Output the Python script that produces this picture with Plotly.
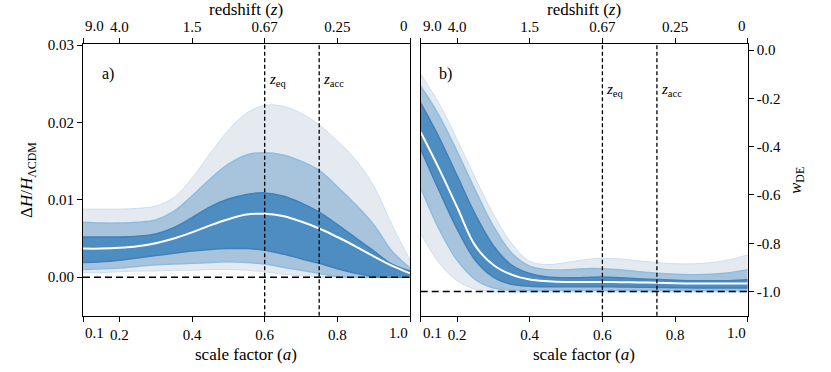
"""
Fan chart of the reconstructed expansion history.
Panel a: fractional deviation of H from LCDM, panel b: dark energy equation of state.
Quantile curves are read off the figure, outer -> inner, then the median.
"""
import plotly.graph_objects as go

SCALE_FACTOR = [0.1, 0.15, 0.2, 0.25, 0.3, 0.35, 0.4, 0.45, 0.5, 0.55,
                0.6, 0.65, 0.7, 0.75, 0.8, 0.85, 0.9, 0.95, 1.0]

# panel a) dH / H_LCDM
DH_U3 = [0.0088, 0.0088, 0.0088, 0.0089, 0.0092, 0.0103, 0.0128, 0.0160, 0.0190, 0.0212,
         0.0222, 0.0221, 0.0212, 0.0197, 0.0176, 0.0152, 0.0118, 0.0068, 0.0022]
DH_U2 = [0.0071, 0.0070, 0.0070, 0.0071, 0.0074, 0.0085, 0.0105, 0.0127, 0.0146, 0.0158,
         0.0161, 0.0158, 0.0150, 0.0138, 0.0117, 0.0094, 0.0068, 0.0034, 0.0012]
DH_U1 = [0.0052, 0.0052, 0.0052, 0.0053, 0.0056, 0.0064, 0.0077, 0.0091, 0.0101, 0.0107,
         0.0109, 0.0105, 0.0096, 0.0084, 0.0068, 0.0051, 0.0034, 0.0017, 0.0008]
DH_MED = [0.0037, 0.0037, 0.0038, 0.0040, 0.0044, 0.0050, 0.0058, 0.0067, 0.0075, 0.0081,
          0.0082, 0.0079, 0.0072, 0.0063, 0.0052, 0.0040, 0.0027, 0.0015, 0.0005]
DH_L1 = [0.0019, 0.0020, 0.0022, 0.0025, 0.0028, 0.0031, 0.0034, 0.0036, 0.0037, 0.0037,
         0.0035, 0.0030, 0.0024, 0.0018, 0.0011, 0.0005, 0.0001, 0.0, 0.0]
DH_L2 = [0.0010, 0.0011, 0.0012, 0.0014, 0.0016, 0.0017, 0.0018, 0.0019, 0.0020, 0.0019,
         0.0017, 0.0013, 0.0009, 0.0005, 0.0001, 0.0, 0.0, 0.0, 0.0]
DH_L3 = [0.0006, 0.0006, 0.0007, 0.0008, 0.0008, 0.0009, 0.0009, 0.0010, 0.0010, 0.0009,
         0.0007, 0.0004, 0.0002, 0.0, 0.0, 0.0, 0.0, 0.0, 0.0]

# panel b) w_DE
W_U3 = [-0.10, -0.22, -0.37, -0.53, -0.68, -0.80, -0.875, -0.888, -0.88, -0.868,
        -0.862, -0.865, -0.873, -0.88, -0.885, -0.885, -0.88, -0.868, -0.848]
W_U2 = [-0.15, -0.27, -0.42, -0.58, -0.73, -0.84, -0.895, -0.91, -0.91, -0.905,
        -0.905, -0.91, -0.918, -0.924, -0.928, -0.93, -0.928, -0.922, -0.91]
W_U1 = [-0.22, -0.36, -0.52, -0.68, -0.81, -0.89, -0.925, -0.94, -0.943, -0.942,
        -0.94, -0.943, -0.947, -0.95, -0.953, -0.955, -0.955, -0.955, -0.95]
W_MED = [-0.34, -0.49, -0.65, -0.81, -0.89, -0.93, -0.95, -0.957, -0.96, -0.96,
         -0.96, -0.961, -0.962, -0.964, -0.966, -0.967, -0.967, -0.967, -0.967]
W_L1 = [-0.41, -0.58, -0.74, -0.87, -0.94, -0.97, -0.978, -0.98, -0.98, -0.98,
        -0.98, -0.981, -0.982, -0.983, -0.984, -0.985, -0.985, -0.985, -0.985]
W_L2 = [-0.57, -0.74, -0.87, -0.95, -0.985, -0.993, -0.995, -0.995, -0.995, -0.995,
        -0.995, -0.995, -0.995, -0.996, -0.996, -0.996, -0.996, -0.996, -0.996]
W_L3 = [-0.76, -0.88, -0.955, -0.99, -1.0, -1.002, -1.002, -1.002, -1.002, -1.002,
        -1.002, -1.002, -1.002, -1.002, -1.002, -1.002, -1.002, -1.002, -1.002]

A_EQ = 0.6
A_ACC = 0.75
DH_REF = 0.0
W_REF = -1.0

X_TICKS = [0.1, 0.2, 0.4, 0.6, 0.8, 1.0]
X_TICK_LABELS = ["0.1", "0.2", "0.4", "0.6", "0.8", "1.0"]
Z_TICK_LABELS = ["9.0", "4.0", "1.5", "0.67", "0.25", "0"]
DH_TICKS = [0.0, 0.01, 0.02, 0.03]
DH_TICK_LABELS = ["0.00", "0.01", "0.02", "0.03"]
W_TICKS = [0.0, -0.2, -0.4, -0.6, -0.8, -1.0]
W_TICK_LABELS = ["0.0", "-0.2", "-0.4", "-0.6", "-0.8", "-1.0"]

FONT = "Liberation Serif"
TICK_SIZE = 15
TITLE_SIZE = 17
FILL_COLORS = ["rgb(228,234,240)", "rgb(168,196,221)", "rgb(78,141,193)"]
LINE_COLORS = ["rgb(202,223,241)", "rgb(140,189,226)", "rgb(66,128,184)"]
LINE_WIDTHS = [1.0, 1.5, 1.5]


def add_fan(fig, xa, ya, bands, median):
    # filled bands, widest first so the narrower ones sit on top
    for (upper, lower), fill in zip(bands, FILL_COLORS):
        fig.add_trace(go.Scatter(x=SCALE_FACTOR, y=upper, mode="lines",
                                 line=dict(width=0, shape="spline"),
                                 xaxis=xa, yaxis=ya, hoverinfo="skip"))
        fig.add_trace(go.Scatter(x=SCALE_FACTOR, y=lower, mode="lines",
                                 line=dict(width=0, shape="spline"),
                                 fill="tonexty", fillcolor=fill,
                                 xaxis=xa, yaxis=ya, hoverinfo="skip"))
    for (upper, lower), col, w in zip(bands, LINE_COLORS, LINE_WIDTHS):
        for curve in (upper, lower):
            fig.add_trace(go.Scatter(x=SCALE_FACTOR, y=curve, mode="lines",
                                     line=dict(color=col, width=w, shape="spline"),
                                     xaxis=xa, yaxis=ya, hoverinfo="skip"))
    fig.add_trace(go.Scatter(x=SCALE_FACTOR, y=median, mode="lines",
                             line=dict(color="white", width=2, shape="spline"),
                             xaxis=xa, yaxis=ya, hoverinfo="skip"))


fig = go.Figure()
add_fan(fig, "x", "y", [(DH_U3, DH_L3), (DH_U2, DH_L2), (DH_U1, DH_L1)], DH_MED)
add_fan(fig, "x2", "y2", [(W_U3, W_L3), (W_U2, W_L2), (W_U1, W_L1)], W_MED)
# invisible copies so the redshift axes on top get drawn
fig.add_trace(go.Scatter(x=SCALE_FACTOR, y=DH_MED, mode="lines", line=dict(width=0),
                         xaxis="x3", yaxis="y", hoverinfo="skip"))
fig.add_trace(go.Scatter(x=SCALE_FACTOR, y=W_MED, mode="lines", line=dict(width=0),
                         xaxis="x4", yaxis="y2", hoverinfo="skip"))

DOM_A = [0.0999, 0.4934]
DOM_B = [0.5063, 0.8998]
DOM_Y = [0.1513, 0.881]

# end labels are pushed inwards (drawn separately below), so blank them on the axis
inner_x = [""] + X_TICK_LABELS[1:-1] + [""]
inner_z = [""] + Z_TICK_LABELS[1:-1] + [""]

common = dict(showgrid=False, zeroline=False, showline=True, linecolor="black",
              linewidth=1, ticks="outside", ticklen=5, tickwidth=1, tickcolor="black",
              automargin=False,
              tickfont=dict(family=FONT, size=TICK_SIZE, color="black"))
xcommon = dict(common, range=[0.1, 1.0], tickvals=X_TICKS)

fig.update_layout(
    width=831, height=372, autosize=False,
    margin=dict(l=0, r=0, t=0, b=0, autoexpand=False),
    paper_bgcolor="white", plot_bgcolor="white", showlegend=False,
    font=dict(family=FONT, size=TICK_SIZE, color="black"),
    xaxis=dict(xcommon, domain=DOM_A, anchor="y", ticktext=inner_x),
    xaxis3=dict(xcommon, overlaying="x", side="top", anchor="y", ticktext=inner_z),
    yaxis=dict(common, domain=DOM_Y, anchor="x", range=[-0.00497, 0.0301],
               tickvals=DH_TICKS, ticktext=DH_TICK_LABELS, mirror=True),
    xaxis2=dict(xcommon, domain=DOM_B, anchor="y2", ticktext=inner_x),
    xaxis4=dict(xcommon, overlaying="x2", side="top", anchor="y2", ticktext=inner_z),
    yaxis2=dict(common, domain=DOM_Y, anchor="x2", side="right", range=[-1.1, 0.024],
                tickvals=W_TICKS, ticktext=W_TICK_LABELS, mirror=True),
)

# end tick labels, aligned to the inside of each panel
for xa, ya in (("x", "y"), ("x2", "y2")):
    for a, bot, top, anchor in ((X_TICKS[0], X_TICK_LABELS[0], Z_TICK_LABELS[0], "left"),
                                (X_TICKS[-1], X_TICK_LABELS[-1], Z_TICK_LABELS[-1], "right")):
        fig.add_annotation(x=a, y=0, xref=xa, yref=ya + " domain", text=bot,
                           showarrow=False, xanchor=anchor, yanchor="middle", yshift=-17,
                           font=dict(family=FONT, size=TICK_SIZE))
        fig.add_annotation(x=a, y=1, xref=xa, yref=ya + " domain", text=top,
                           showarrow=False, xanchor=anchor, yanchor="middle", yshift=18,
                           font=dict(family=FONT, size=TICK_SIZE))

# reference lines
for xa, ya, yref in (("x", "y", DH_REF), ("x2", "y2", W_REF)):
    for a in (A_EQ, A_ACC):
        fig.add_shape(type="line", xref=xa, yref=ya + " domain", x0=a, x1=a, y0=0, y1=1,
                      line=dict(color="black", width=1.3, dash="4px,2.5px"))
    fig.add_shape(type="line", xref=xa + " domain", yref=ya, x0=0, x1=1, y0=yref, y1=yref,
                  line=dict(color="black", width=1.6, dash="7px,4px"))

# z_eq / z_acc labels and panel letters
label_y = {"y": 0.0255, "y2": -0.165}
for xa, ya in (("x", "y"), ("x2", "y2")):
    for a, txt in ((A_EQ, "<i>z</i><sub>eq</sub>"), (A_ACC, "<i>z</i><sub>acc</sub>")):
        fig.add_annotation(x=a, y=label_y[ya], xref=xa, yref=ya, text=txt, showarrow=False,
                           xanchor="left", xshift=2, font=dict(family=FONT, size=TICK_SIZE))
fig.add_annotation(x=0.052, y=0.931, xref="x domain", yref="y domain", text="a)",
                   showarrow=False, xanchor="left", font=dict(family=FONT, size=16))
fig.add_annotation(x=0.05, y=0.931, xref="x2 domain", yref="y2 domain", text="b)",
                   showarrow=False, xanchor="left", font=dict(family=FONT, size=16))

# axis titles
title_font = dict(family=FONT, size=TITLE_SIZE)
for cx in (0.2966, 0.703):
    fig.add_annotation(x=cx, y=0.0457, xref="paper", yref="paper", xanchor="center",
                       yanchor="middle", text="scale factor (<i>a</i>)", showarrow=False,
                       font=title_font)
    fig.add_annotation(x=cx, y=0.9758, xref="paper", yref="paper", xanchor="center",
                       yanchor="middle", text="redshift (<i>z</i>)", showarrow=False,
                       font=title_font)
fig.add_annotation(x=0.0337, y=0.516, xref="paper", yref="paper", textangle=-90,
                   xanchor="center", yanchor="middle",
                   text="Δ<i>H</i>/<i>H</i><sub>ΛCDM</sub>", showarrow=False, font=title_font)
fig.add_annotation(x=0.959, y=0.516, xref="paper", yref="paper", textangle=-90,
                   xanchor="center", yanchor="middle",
                   text="<i>w</i><sub>DE</sub>", showarrow=False, font=title_font)

# the page body has a default margin; drop it so the figure sits at (0, 0)
fig.write_html("out.html", config={"displayModeBar": False},
               post_script="document.body.style.margin='0';")
